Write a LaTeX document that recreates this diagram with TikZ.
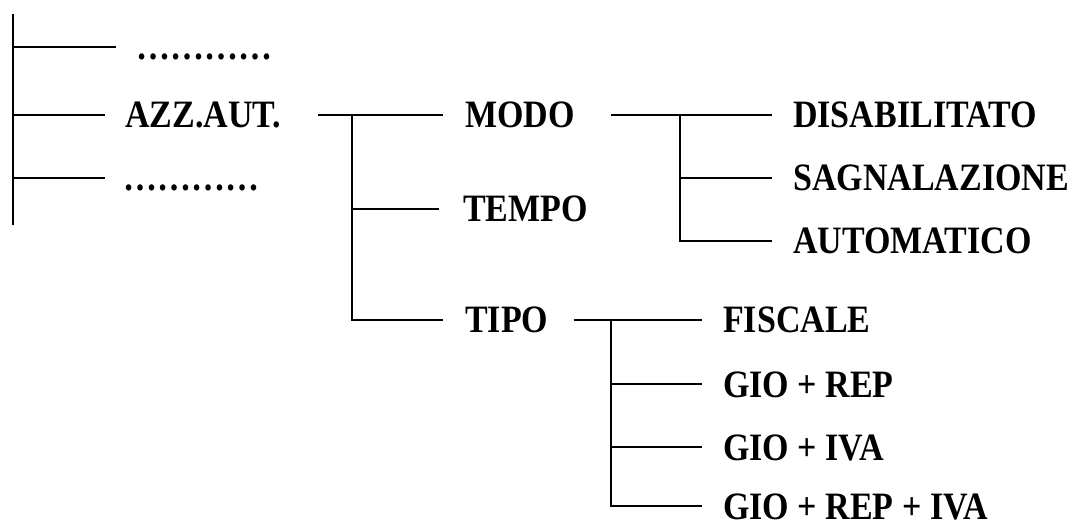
\documentclass[tikz,border=0pt]{standalone}
\usepackage{fontspec}
\setmainfont{Liberation Serif}
\usepackage{tikz}
\tikzstyle{mylabel} = [anchor=west, inner sep=0pt, text height=26pt, text depth=0pt,
    font=\fontsize{34}{40}\selectfont\bfseries]
\tikzstyle{myline} = [line width=1.9pt]
\newcommand{\tall}[1]{\scalebox{1}[1.14]{#1}}

\begin{document}
\begin{tikzpicture}[x=1pt, y=-1pt]
                \useasboundingbox (0,0) rectangle (1074,521);
                % labels
                \node [mylabel] (dotsA) at (136,47) {\tall{…………}};
                \node [mylabel] (azz) at (125,115) {\tall{AZZ.AUT.}};
                \node [mylabel] (dotsB) at (123,178) {\tall{…………}};
                \node [mylabel] (modo) at (465,115) {\tall{MODO}};
                \node [mylabel] (tempo) at (463,209) {\tall{TEMPO}};
                \node [mylabel] (tipo) at (465,320) {\tall{TIPO}};
                \node [mylabel] (disab) at (793,115) {\tall{DISABILITATO}};
                \node [mylabel] (segn) at (793,178) {\tall{SAGNALAZIONE}};
                \node [mylabel] (autom) at (793,241) {\tall{AUTOMATICO}};
                \node [mylabel] (fisc) at (723,320) {\tall{FISCALE}};
                \node [mylabel] (gr) at (723,384) {\tall{GIO + REP}};
                \node [mylabel] (gi) at (723,447) {\tall{GIO + IVA}};
                \node [mylabel] (gri) at (723,506) {\tall{GIO + REP + IVA}};
                % junctions
                \coordinate (rtop) at (13,14);
                \coordinate (rbot) at (13,225);
                \coordinate (j1) at (352,115);
                \coordinate (j2) at (680,115);
                \coordinate (j3) at (611,320);
                % root
                \draw [myline] (rtop) -- (rbot);
                \draw [myline] (rtop |- dotsA.west) -- ([xshift=-20pt]dotsA.west);
                \draw [myline] (rtop |- azz.west) -- ([xshift=-20pt]azz.west);
                \draw [myline] (rtop |- dotsB.west) -- ([xshift=-18pt]dotsB.west);
                % AZZ.AUT.
                \draw [myline] ([xshift=36pt]azz.east) -- ([xshift=-22pt]modo.west);
                \draw [myline] (j1) |- ([xshift=-22pt]tipo.west);
                \draw [myline] (j1 |- tempo.west) -- ([xshift=-24pt]tempo.west);
                % MODO
                \draw [myline] ([xshift=36pt]modo.east) -- ([xshift=-21pt]disab.west);
                \draw [myline] (j2) |- ([xshift=-21pt]autom.west);
                \draw [myline] (j2 |- segn.west) -- ([xshift=-21pt]segn.west);
                % TIPO
                \draw [myline] ([xshift=25pt]tipo.east) -- ([xshift=-21pt]fisc.west);
                \draw [myline] (j3) |- ([xshift=-21pt]gri.west);
                \draw [myline] (j3 |- gr.west) -- ([xshift=-21pt]gr.west);
                \draw [myline] (j3 |- gi.west) -- ([xshift=-21pt]gi.west);
            \end{tikzpicture}
\end{document}
